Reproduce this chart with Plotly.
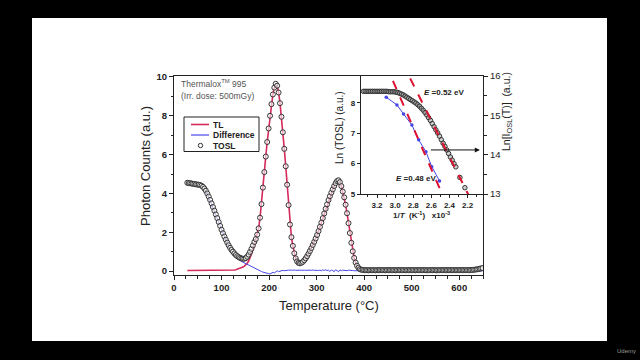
import plotly.graph_objects as go

# ---------------- main panel data ----------------
temp_c = list(range(28, 650, 3))  # measurement temperatures (°C), 208 samples

tosl_counts = [
    4.55, 4.53, 4.53, 4.51, 4.50, 4.49, 4.47, 4.46, 4.45, 4.43,   # 28-55
    4.40, 4.34, 4.25, 4.14, 4.00, 3.84, 3.67, 3.49, 3.30, 3.11,   # 58-85
    2.92, 2.73, 2.53, 2.33, 2.13, 1.95, 1.78, 1.62, 1.47, 1.33,   # 88-115
    1.20, 1.09, 1.00, 0.91, 0.83, 0.77, 0.72, 0.68, 0.65, 0.64,   # 118-145
    0.64, 0.67, 0.74, 0.85, 0.99, 1.15, 1.32, 1.50, 1.65, 1.88,   # 148-175
    2.20, 2.75, 3.45, 4.30, 5.10, 5.90, 6.65, 7.35, 8.00, 8.60,   # 178-205
    9.10, 9.45, 9.65, 9.55, 9.20, 8.65, 7.95, 7.15, 6.30, 5.40,   # 208-235
    4.45, 3.40, 2.40, 1.75, 1.30, 0.92, 0.66, 0.50, 0.42, 0.40,   # 238-265
    0.43, 0.48, 0.56, 0.66, 0.77, 0.90, 1.04, 1.19, 1.35, 1.51,   # 268-295
    1.68, 1.86, 2.06, 2.28, 2.50, 2.73, 2.97, 3.21, 3.44, 3.66,   # 298-325
    3.86, 4.04, 4.21, 4.38, 4.53, 4.64, 4.68, 4.58, 4.38, 4.10,   # 328-355
    3.80, 3.42, 2.98, 2.47, 1.96, 1.46, 1.02, 0.68, 0.44, 0.28,   # 358-385
    0.17, 0.10, 0.07, 0.06,                                       # 388-397
    0.05, 0.05, 0.05, 0.04, 0.05, 0.05, 0.05, 0.05, 0.04, 0.05,   # 400-427
    0.05, 0.05, 0.05, 0.05, 0.05, 0.04, 0.05, 0.05, 0.05, 0.05,   # 430-457
    0.05, 0.05, 0.04, 0.05, 0.05, 0.05, 0.05, 0.05, 0.05, 0.04,   # 460-487
    0.05, 0.05, 0.05, 0.05, 0.05, 0.05, 0.04, 0.05, 0.05, 0.05,   # 490-517
    0.05, 0.05, 0.05, 0.05, 0.04, 0.05, 0.05, 0.05, 0.05, 0.05,   # 520-547
    0.05, 0.04, 0.05, 0.05, 0.05, 0.05, 0.05, 0.05, 0.05, 0.05,   # 550-577
    0.05, 0.05, 0.05, 0.05, 0.05, 0.05, 0.05, 0.05, 0.05, 0.05,   # 580-607
    0.05, 0.05, 0.05, 0.05,                                       # 610-619
    0.05, 0.06, 0.06, 0.07, 0.08, 0.09, 0.10, 0.12, 0.14, 0.16,   # 622-649
]

tl_rise = [
    0.03, 0.03, 0.03, 0.03, 0.03, 0.03, 0.03, 0.03, 0.03, 0.03,   # 28-55
    0.03, 0.03, 0.03, 0.03, 0.03, 0.03, 0.03, 0.03, 0.03, 0.03,   # 58-85
    0.03, 0.03, 0.03, 0.03, 0.03, 0.03, 0.03, 0.03, 0.03, 0.03,   # 88-115
    0.03, 0.04, 0.05, 0.06, 0.07, 0.09, 0.11, 0.14, 0.17, 0.21,   # 118-145
    0.26, 0.32, 0.40, 0.52, 0.68, 0.88, 1.12, 1.40, 1.62, 1.86,   # 148-175
]
tl_tail = [
    0.03, 0.03, 0.03, 0.03, 0.03, 0.03, 0.03, 0.03, 0.03, 0.03,
    0.03, 0.03, 0.03, 0.03, 0.03, 0.03, 0.03, 0.03, 0.03, 0.03,
    0.03, 0.03, 0.03, 0.03, 0.03, 0.03, 0.03, 0.03, 0.03, 0.03,
    0.03, 0.03, 0.03, 0.03, 0.03, 0.03, 0.03, 0.03, 0.03, 0.03,
    0.03, 0.03, 0.03, 0.03, 0.03, 0.03, 0.03, 0.03, 0.03, 0.03,
    0.03, 0.03, 0.03, 0.03, 0.03, 0.03, 0.03, 0.03, 0.03, 0.03,
    0.03, 0.03, 0.03, 0.03, 0.03, 0.03, 0.03, 0.03, 0.03, 0.03,
    0.03, 0.03, 0.03, 0.03, 0.03, 0.03, 0.03, 0.03, 0.04, 0.05,
    0.06, 0.08, 0.10, 0.12, 0.14,
]  # 397-649
# TL coincides with the TOSL points over the two glow peaks (178-394 °C)
tl_counts = tl_rise + tosl_counts[50:123] + tl_tail

diff_counts = [
    4.52, 4.50, 4.50, 4.48, 4.47, 4.46, 4.44, 4.43, 4.42, 4.40,   # 28-55
    4.37, 4.31, 4.22, 4.11, 3.97, 3.81, 3.64, 3.46, 3.27, 3.08,   # 58-85
    2.89, 2.70, 2.50, 2.30, 2.10, 1.92, 1.75, 1.59, 1.44, 1.30,   # 88-115
    1.17, 1.05, 0.95, 0.85, 0.76, 0.68, 0.61, 0.55, 0.50, 0.46,   # 118-145
    0.42, 0.38, 0.34, 0.30, 0.26, 0.22, 0.18, 0.14, 0.10, 0.07,   # 148-175
    0.04, 0.01, -0.02, -0.05, -0.08, -0.10, -0.12, -0.13, -0.15, -0.12,  # 178-205
    -0.06, -0.10, -0.02, 0.02, -0.03, -0.01, 0.03, 0.04, 0.02, 0.05,     # 208-235
    0.04, 0.05, 0.03, 0.05, 0.04, 0.06, 0.04, 0.05, 0.03, 0.05,   # 238-265
    0.04, 0.06, 0.05, 0.04, 0.05, 0.03, 0.05, 0.04, 0.06, 0.04,   # 268-295
    0.05, 0.04, 0.03, 0.05, 0.02, 0.06, 0.04, 0.07, 0.03, 0.05,   # 298-325
    -0.02, 0.06, 0.03, -0.03, 0.07, 0.01, -0.03, 0.06, 0.02, 0.05,  # 328-355
    0.03, 0.04, 0.02, 0.05, 0.03, 0.04, 0.03, 0.02, 0.03, 0.02,   # 358-385
    0.02, 0.01, 0.01, 0.01,                                       # 388-397
    0.01, 0.01, 0.01, 0.01, 0.01, 0.01, 0.01, 0.01, 0.01, 0.01,
    0.01, 0.01, 0.01, 0.01, 0.01, 0.01, 0.01, 0.01, 0.01, 0.01,
    0.01, 0.01, 0.01, 0.01, 0.01, 0.01, 0.01, 0.01, 0.01, 0.01,
    0.01, 0.01, 0.01, 0.01, 0.01, 0.01, 0.01, 0.01, 0.01, 0.01,
    0.01, 0.01, 0.01, 0.01, 0.01, 0.01, 0.01, 0.01, 0.01, 0.01,
    0.01, 0.01, 0.01, 0.01, 0.01, 0.01, 0.01, 0.01, 0.01, 0.01,
    0.01, 0.01, 0.01, 0.01, 0.01, 0.01, 0.01, 0.01, 0.01, 0.01,
    0.01, 0.01, 0.01, 0.01, 0.01, 0.01, 0.01, 0.01, 0.01, 0.01,
    0.01, 0.01, 0.01, 0.01,                                       # 400-649
]

assert len(tosl_counts) == len(temp_c)
assert len(tl_counts) == len(temp_c)
assert len(diff_counts) == len(temp_c)

main_x_ticks = [0, 100, 200, 300, 400, 500, 600]
main_y_ticks = [0, 2, 4, 6, 8, 10]

# ---------------- inset data ----------------
inv_t_osl = [3.35, 3.33, 3.31, 3.29, 3.27, 3.25, 3.23, 3.21, 3.19, 3.17,
             3.15, 3.13, 3.11, 3.09, 3.07, 3.05, 3.03, 3.01, 2.99, 2.97,
             2.95, 2.93, 2.91, 2.89, 2.87, 2.85, 2.83, 2.81, 2.79, 2.77,
             2.75, 2.73, 2.71, 2.69, 2.67, 2.65, 2.63, 2.61, 2.59, 2.57,
             2.55, 2.53, 2.51, 2.49, 2.47, 2.45, 2.43, 2.41, 2.39, 2.37,
             2.35, 2.33, 2.285, 2.23]
ln_osl = [15.61, 15.61, 15.61, 15.61, 15.61, 15.61, 15.61, 15.61, 15.61, 15.61,
          15.61, 15.61, 15.61, 15.61, 15.60, 15.60, 15.60, 15.60, 15.59, 15.58,
          15.56, 15.54, 15.52, 15.49, 15.46, 15.43, 15.40, 15.37, 15.34, 15.31,
          15.27, 15.23, 15.18, 15.13, 15.07, 15.01, 14.94, 14.87, 14.79, 14.71,
          14.63, 14.55, 14.47, 14.38, 14.29, 14.21, 14.12, 14.03, 13.94, 13.86,
          13.77, 13.69, 13.42, 13.16]

inv_t_tosl = [3.098, 2.98, 2.907, 2.815, 2.74, 2.66, 2.596, 2.51]
ln_tosl = [8.18, 7.93, 7.63, 7.27, 6.78, 6.39, 5.90, 5.43]

fit_048_x = [3.024, 2.486]
fit_048_y = [8.72, 5.03]
fit_052_x = [2.834, 2.193]
fit_052_y = [15.94, 12.99]

inset_x_ticks = [3.2, 3.0, 2.8, 2.6, 2.4, 2.2]
inset_x_labels = ["3.2", "3.0", "2.8", "2.6", "2.4", "2.2"]
inset_left_ticks = [5, 6, 7, 8]
inset_right_ticks = [13, 14, 15, 16]

# ---------------- styling ----------------
RED = "#d42a5c"
BLUE = "#4646e6"
DARK = "#333333"
FIT_RED = "#e0102f"
FONT = "Arial, Liberation Sans, sans-serif"

L, R, T, B = 174, 157, 76, 85
W, H = 640, 360


def PX(p):
    return (p - L) / (W - L - R)


def PY(p):
    return (H - B - p) / (H - T - B)


fig = go.Figure()

fig.add_trace(go.Scatter(x=temp_c, y=tl_counts, mode="lines", name="TL",
                         line=dict(color=RED, width=1.6), xaxis="x", yaxis="y"))
fig.add_trace(go.Scatter(x=temp_c, y=diff_counts, mode="lines", name="Difference",
                         line=dict(color=BLUE, width=1), xaxis="x", yaxis="y"))
fig.add_trace(go.Scatter(x=temp_c, y=tosl_counts, mode="markers", name="TOSL",
                         marker=dict(symbol="circle", size=5, color="rgba(255,255,255,0.6)",
                                     line=dict(color=DARK, width=1)),
                         xaxis="x", yaxis="y"))

# inset traces
fig.add_trace(go.Scatter(x=inv_t_tosl, y=ln_tosl, mode="lines+markers",
                         line=dict(color=BLUE, width=1),
                         marker=dict(size=3.5, color=BLUE),
                         xaxis="x2", yaxis="y2"))
fig.add_trace(go.Scatter(x=inv_t_osl, y=ln_osl, mode="markers",
                         marker=dict(symbol="circle", size=4.5, color="rgba(160,160,160,0.5)",
                                     line=dict(color=DARK, width=1)),
                         xaxis="x2", yaxis="y3"))
fig.add_trace(go.Scatter(x=fit_048_x, y=fit_048_y, mode="lines",
                         line=dict(color=FIT_RED, width=2, dash="dash"),
                         xaxis="x2", yaxis="y2"))
fig.add_trace(go.Scatter(x=fit_052_x, y=fit_052_y, mode="lines",
                         line=dict(color=FIT_RED, width=2, dash="dash"),
                         xaxis="x2", yaxis="y3"))

axis_common = dict(showline=True, linecolor="#222", linewidth=1, showgrid=False,
                   zeroline=False, ticks="outside", tickcolor="#222")

tick_font_main = dict(family=FONT, size=9.5, color="#222", weight="bold")
tick_font_inset = dict(family=FONT, size=8, color="#222", weight="bold")

fig.update_layout(
    width=W, height=H,
    margin=dict(l=L, r=R, t=T, b=B, pad=0),
    paper_bgcolor="black",
    plot_bgcolor="white",
    showlegend=False,
    xaxis=dict(domain=[0, 1], anchor="y", range=[0, 650], tickvals=main_x_ticks,
               ticklen=4, mirror=True, tickfont=tick_font_main,
               minor=dict(dtick=25, ticks="outside", ticklen=2.5, tickcolor="#222"),
               **axis_common),
    yaxis=dict(domain=[0, 1], anchor="x", range=[-0.2, 10.05], tickvals=main_y_ticks,
               ticklen=4, mirror=True, tickfont=tick_font_main,
               minor=dict(dtick=1, ticks="outside", ticklen=2.5, tickcolor="#222"),
               **axis_common),
    xaxis2=dict(domain=[PX(360.7), 1.0], anchor="y2", range=[3.38, 2.03],
                tickvals=inset_x_ticks, ticktext=inset_x_labels, ticklen=3, mirror=True,
                tickfont=tick_font_inset,
                minor=dict(dtick=0.1, ticks="outside", ticklen=2, tickcolor="#222"),
                **axis_common),
    yaxis2=dict(domain=[PY(194), 1.0], anchor="x2", range=[5, 8.88],
                tickvals=inset_left_ticks, ticklen=3, mirror=True, tickfont=tick_font_inset,
                **axis_common),
    yaxis3=dict(overlaying="y2", anchor="x2", side="right", range=[13, 16],
                tickvals=inset_right_ticks, ticklen=4,
                tickfont=dict(family=FONT, size=9.5, color="#222"),
                minor=dict(dtick=0.5, ticks="outside", ticklen=2.5, tickcolor="#222"),
                **axis_common),
)

shapes = [
    # white slide area
    dict(type="rect", xref="paper", yref="paper", x0=PX(32), x1=PX(607), y0=PY(341), y1=PY(18),
         fillcolor="white", line=dict(width=0), layer="below"),
    # legend frame
    dict(type="rect", xref="paper", yref="paper", x0=PX(184), x1=PX(259), y0=PY(151.5), y1=PY(117),
         fillcolor="white", line=dict(color="#222", width=1), layer="above"),
    dict(type="line", xref="paper", yref="paper", x0=PX(191), x1=PX(209), y0=PY(124.5), y1=PY(124.5),
         line=dict(color=RED, width=1.6)),
    dict(type="line", xref="paper", yref="paper", x0=PX(191), x1=PX(209), y0=PY(135), y1=PY(135),
         line=dict(color=BLUE, width=1.2)),
    dict(type="circle", xref="paper", yref="paper", x0=PX(198.3), x1=PX(202.7), y0=PY(147.7), y1=PY(143.3),
         line=dict(color=DARK, width=1), fillcolor="white"),
]
fig.update_layout(shapes=shapes)

ann = []


def add_text(text, x, y, size, xanchor="center", yanchor="middle", angle=0, color="#222", bold=False):
    ann.append(dict(text=text, x=PX(x), y=PY(y), xref="paper", yref="paper", showarrow=False,
                    xanchor=xanchor, yanchor=yanchor, textangle=angle,
                    font=dict(family=FONT, size=size, color=color, weight="bold" if bold else "normal")))


add_text("Temperature (°C)", 329, 305, 13)
add_text("Photon Counts (a.u.)", 145, 166, 13, angle=-90)
add_text("Thermalox<sup>TM</sup> 995", 179, 84, 8.5, xanchor="left", color="#555")
add_text("(Irr. dose: 500mGy)", 179, 96.5, 8.5, xanchor="left", color="#555")
add_text("TL", 211, 124.5, 8.5, xanchor="left", bold=True)
add_text("Difference", 211, 135, 8.5, xanchor="left", bold=True)
add_text("TOSL", 211, 145.5, 8.5, xanchor="left", bold=True)
add_text("<i>E</i> =0.52 eV", 422, 92, 8, xanchor="left", bold=True)
add_text("<i>E</i> =0.48 eV", 394, 178, 8, xanchor="left", bold=True)
add_text("1/<i>T</i>  (K<sup>-1</sup>)   x10<sup>-3</sup>", 421, 215, 8, bold=True)
add_text("Ln (TOSL) (a.u.)", 339, 128, 10, angle=-90)
add_text("Ln[I<sub>OSL</sub>(T)]  (a.u.)", 507, 112, 10.5, angle=-90)
add_text("Udemy", 626, 351, 6, color="#999")

ann.append(dict(x=2.065, y=14.12, xref="x2", yref="y3", ax=2.622, ay=14.12, axref="x2", ayref="y3",
                text="", showarrow=True, arrowhead=2, arrowsize=1, arrowwidth=1, arrowcolor="#111"))

fig.update_layout(annotations=ann)

fig.write_html(
    "out.html",
    config={"displayModeBar": False},
    post_script="document.body.style.margin='0';document.body.style.background='black';"
                "document.body.style.overflow='hidden';",
)
